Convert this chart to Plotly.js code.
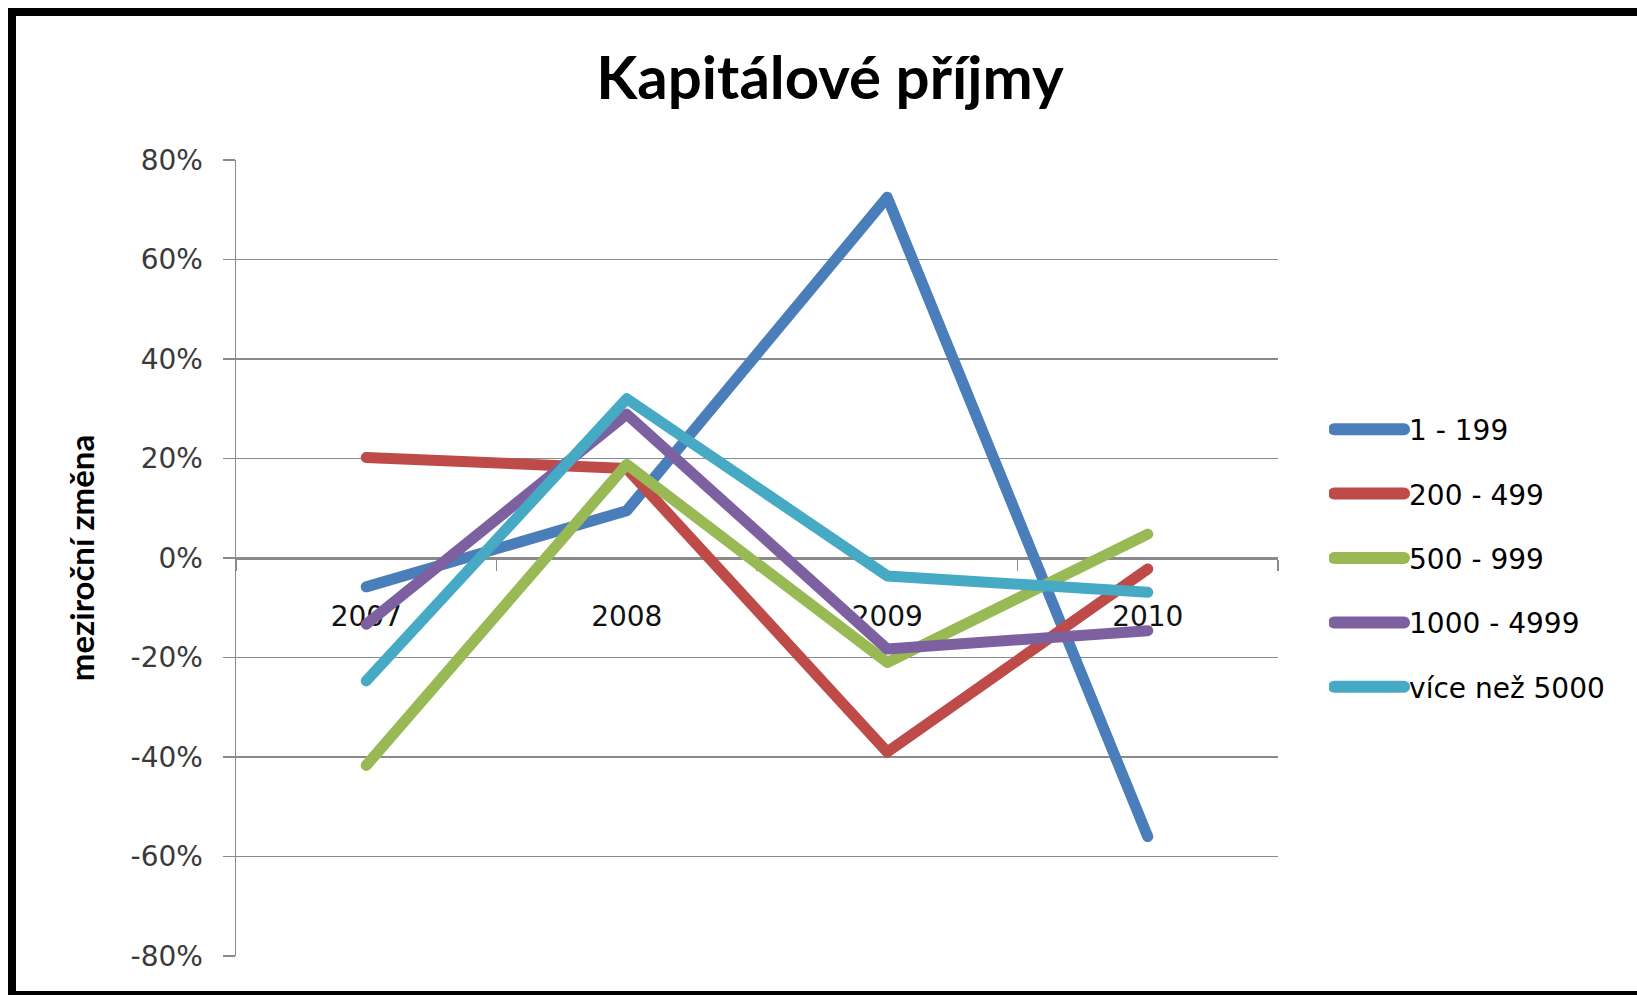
<!DOCTYPE html>
<html>
<head>
<meta charset="utf-8">
<script src="https://cdn.plot.ly/plotly-3.0.1.min.js"></script>
<style>
  html, body { margin: 0; padding: 0; background: #ffffff; overflow: hidden; }
  #chart { position: absolute; left: 0; top: 0; width: 1637px; height: 995px; }
  #frame { position: absolute; left: 8px; top: 8px; width: 1700px; height: 991px;
           box-sizing: border-box; border: 8px solid #000; pointer-events: none; }
  .scatterlayer path.js-line { stroke-linejoin: round; stroke-linecap: round; }
  .legend .legendlines path { stroke-width: 12px !important; stroke-linecap: round; }
</style>
</head>
<body>
<div id="chart"></div>
<div id="frame"></div>
<script>
// ---- data ----
const years = ['2007', '2008', '2009', '2010'];
const seriesNames = ['1 - 199', '200 - 499', '500 - 999', '1000 - 4999', 'více než 5000'];
const s1_199      = [-5.8,  9.5,  72.5, -56.0];
const s200_499    = [20.2, 18.0, -39.0,  -2.2];
const s500_999    = [-41.7, 18.8, -21.0,  4.8];
const s1000_4999  = [-13.3, 28.9, -18.3, -14.6];
const sVice5000   = [-24.7, 32.0,  -3.6,  -6.9];
const yTickVals   = [-80, -60, -40, -20, 0, 20, 40, 60, 80];
const yTickText   = ['-80%', '-60%', '-40%', '-20%', '0%', '20%', '40%', '60%', '80%'];

const seriesValues = [s1_199, s200_499, s500_999, s1000_4999, sVice5000];
const colors = ['#4a7ebb', '#be4b48', '#98b954', '#7d60a0', '#46aac5'];

const traces = seriesValues.map((vals, i) => ({
  type: 'scatter',
  mode: 'lines',
  x: years,
  y: vals,
  name: seriesNames[i],
  legendgroup: 'g' + i,
  line: { color: colors[i], width: 11 }
}));

const gridGray = '#8a8a8a';

const layout = {
  width: 1637,
  height: 995,
  paper_bgcolor: '#ffffff',
  plot_bgcolor: '#ffffff',
  margin: { l: 236, r: 359, t: 160, b: 39, autoexpand: false },
  showlegend: true,
  title: {
    text: 'Kapitálové příjmy',
    font: { family: 'Lato, "Open Sans", sans-serif', size: 60, color: '#000000', weight: 'bold' },
    x: 0.507, xanchor: 'center',
    y: 0.922, yanchor: 'middle'
  },
  xaxis: {
    type: 'category',
    categoryorder: 'array',
    categoryarray: years,
    range: [-0.5, 3.5],
    anchor: 'free',
    position: 0.5,
    showgrid: false,
    zeroline: false,
    showline: true,
    linecolor: gridGray,
    linewidth: 1.5,
    ticks: 'outside',
    tickson: 'boundaries',
    ticklen: 11,
    tickwidth: 1.5,
    tickcolor: gridGray,
    ticklabelstandoff: 33,
    layer: 'below traces',
    automargin: false,
    tickfont: { family: '"DejaVu Sans", sans-serif', size: 28, color: '#111111' }
  },
  yaxis: {
    range: [-80, 80],
    tickvals: yTickVals,
    ticktext: yTickText,
    showgrid: true,
    gridcolor: gridGray,
    gridwidth: 1.5,
    zeroline: false,
    showline: true,
    linecolor: gridGray,
    linewidth: 1.5,
    ticks: 'outside',
    ticklen: 12,
    tickwidth: 1.5,
    tickcolor: gridGray,
    ticklabelstandoff: 14,
    layer: 'below traces',
    automargin: false,
    tickfont: { family: '"DejaVu Sans", sans-serif', size: 28, color: '#3a3a3a' },
    title: {
      text: 'meziroční změna',
      font: { family: 'Lato, "Open Sans", sans-serif', size: 33, color: '#000000', weight: 'bold' },
      standoff: 26
    }
  },
  legend: {
    x: 1.049, xanchor: 'left',
    y: 0.5, yanchor: 'middle',
    itemwidth: 70,
    tracegroupgap: 25,
    font: { family: '"DejaVu Sans", sans-serif', size: 28, color: '#000000' },
    bgcolor: 'rgba(0,0,0,0)',
    borderwidth: 0
  }
};

Plotly.newPlot('chart', traces, layout, { displayModeBar: false, staticPlot: true });
</script>
</body>
</html>
